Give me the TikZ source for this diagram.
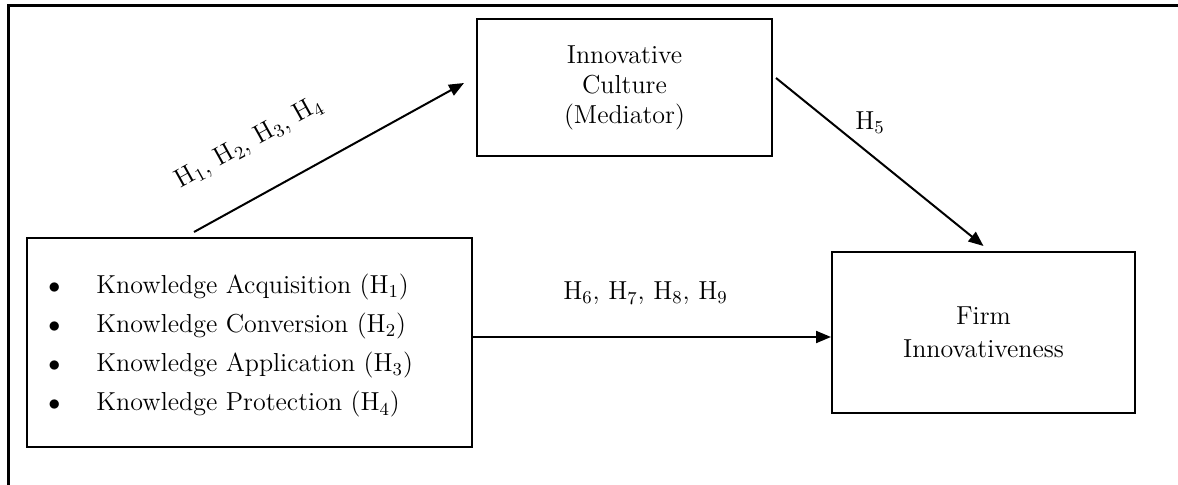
\documentclass[tikz,border=0pt]{standalone}
\usetikzlibrary{arrows.meta}
\begin{document}
\begin{tikzpicture}[x=0.5pt,y=-0.5pt,
  font=\fontsize{13}{15}\selectfont,
  box/.style={draw, line width=1pt, inner sep=0pt, align=center},
  arr/.style={line width=1pt, -{Triangle[length=7.5pt,width=6pt]}},
  lbl/.style={inner sep=0pt}]
\useasboundingbox (0,0) rectangle (1178,485);
% outer frame (top and left rules)
\draw[line width=1.5pt] (8,485) -- (8,6) -- (1178,6);
% boxes
\node[box, minimum width=147.5pt, minimum height=68.5pt,
      font=\fontsize{13}{15}\selectfont] (med) at (624.5,87.5)
      {Innovative\\Culture\\(Mediator)};
\node[box, minimum width=151.5pt, minimum height=80.5pt,
      font=\fontsize{13}{16.5}\selectfont] (firm) at (983.5,332.5)
      {Firm\\Innovativeness};
\node[box, minimum width=222.5pt, minimum height=104.5pt] (list) at (249.5,342.5) {};
\node[lbl, anchor=west, align=left, font=\fontsize{13}{19.5}\selectfont] (items) at (48,346)
  {\makebox[24pt][l]{$\bullet$}Knowledge Acquisition (H\textsubscript{1})\\
   \makebox[24pt][l]{$\bullet$}Knowledge Conversion (H\textsubscript{2})\\
   \makebox[24pt][l]{$\bullet$}Knowledge Application (H\textsubscript{3})\\
   \makebox[24pt][l]{$\bullet$}Knowledge Protection (H\textsubscript{4})};
% connector end points
\coordinate (a1s) at (194,232);
\coordinate (a1e) at (464,83);
\coordinate (a2s) at (776,78);
\coordinate (a2e) at (983.5,246);
\coordinate (hy) at (0,337);
% connectors
\draw[arr] (a1s) -- (a1e);
\draw[arr] (a2s) -- (a2e);
\draw[arr] (list.east |- hy) -- (firm.west |- hy);
% labels
\node[lbl, anchor=base, rotate=29] (l1) at (252.5,148.5)
  {H\textsubscript{1}, H\textsubscript{2}, H\textsubscript{3}, H\textsubscript{4}};
\node[lbl] (l5) at (870,123) {H\textsubscript{5}};
\node[lbl, anchor=base] (l6) at (645.5,300)
  {H\textsubscript{6}, H\textsubscript{7}, H\textsubscript{8}, H\textsubscript{9}};
\end{tikzpicture}
\end{document}
